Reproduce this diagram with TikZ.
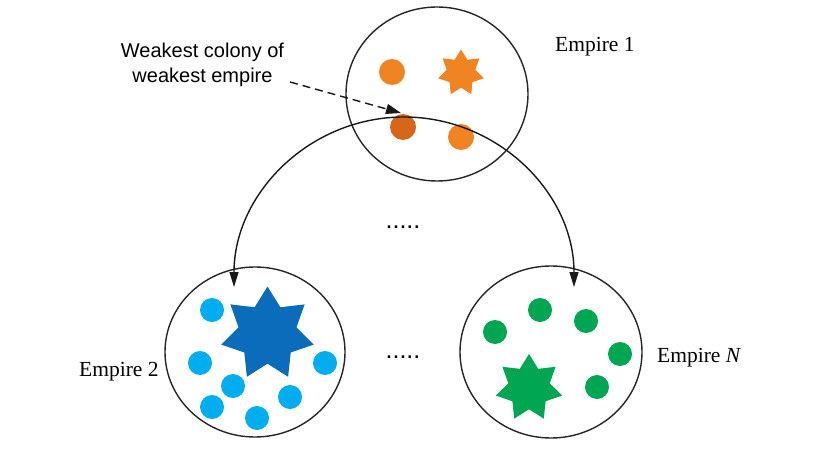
\documentclass[tikz,border=0pt]{standalone}
\usepackage{fontspec}
\setmainfont{Liberation Serif}
\newfontfamily\labelsans{Liberation Sans}
\usetikzlibrary{shapes.geometric,arrows.meta}
\definecolor{orangeC}{HTML}{F08422}
\definecolor{darkorangeC}{HTML}{D6661A}
\definecolor{cyanC}{HTML}{00AEEF}
\definecolor{blueC}{HTML}{0A6CBA}
\definecolor{greenC}{HTML}{00A651}
\begin{document}
\begin{tikzpicture}[x=1pt,y=1pt,
  empire/.style={draw=black!85, line width=1.4pt, ellipse, inner sep=0pt},
  colony/.style={circle, inner sep=0pt, minimum size=24pt, fill=#1},
  imperialist/.style={star, star points=7, star point ratio=1.6, inner sep=0pt, fill=#1},
  emplabel/.style={font=\fontsize{21.5}{24}\selectfont, inner sep=0pt, anchor=base west},
  ellip/.style={font=\labelsans\fontsize{25}{25}\selectfont, inner sep=0pt},
  conn/.style={draw=black!90, line width=1.4pt},
  tip/.style={-{Triangle[length=15pt,width=10pt]}}
]
\useasboundingbox (0,0) rectangle (821,453);

% empires
\node[empire, minimum width=182pt, minimum height=174pt] (e1) at (437,359) {};
\node[empire, minimum width=180pt, minimum height=170pt] (e2) at (255,101) {};
\node[empire, minimum width=182pt, minimum height=172pt] (eN) at (551,101) {};

% empire 1 members
\node[colony=orangeC, minimum size=26pt] (o1) at (392,381) {};
\node[colony=darkorangeC, minimum size=26pt] (wc) at (403,326) {};
\node[colony=orangeC, minimum size=26pt] (o3) at (461,316) {};
\node[imperialist=orangeC, minimum size=47pt] (s1) at (461,380) {};

% empire 2 members
\node[imperialist=blueC, minimum size=95pt] (s2) at (267.5,119) {};
\node[colony=cyanC] (b1) at (212,143) {};
\node[colony=cyanC] (b2) at (200,90) {};
\node[colony=cyanC] (b3) at (233,67) {};
\node[colony=cyanC] (b4) at (212,46) {};
\node[colony=cyanC] (b5) at (257,35) {};
\node[colony=cyanC] (b6) at (290,56) {};
\node[colony=cyanC] (b7) at (325,90) {};

% empire N members
\node[imperialist=greenC, minimum size=68pt] (sN) at (529,65) {};
\node[colony=greenC] (g1) at (495,121) {};
\node[colony=greenC] (g2) at (540,143) {};
\node[colony=greenC] (g3) at (586,132) {};
\node[colony=greenC] (g4) at (620,99) {};
\node[colony=greenC] (g5) at (597,66) {};

% labels
\node[emplabel] (l1) at (555,401) {Empire 1};
\node[emplabel] (l2) at (79,77) {Empire 2};
\node[emplabel] (lN) at (657,91) {Empire \textit{N}};
\node[font=\labelsans\fontsize{20}{25}\selectfont, align=center, inner sep=0pt] (wl) at (202.5,388.5) {Weakest colony of\\weakest empire};

% ellipses
\node[ellip] (d1) at (403,226) {.....};
\node[ellip] (d2) at (403,96) {.....};

% connectors
\coordinate (dstart) at (290,371);
\coordinate (dend) at (401,340);
\draw[conn, tip, dash pattern=on 8pt off 5pt] (dstart) -- (dend);

\coordinate (arcL) at (234,166);
\draw[conn, {Triangle[length=15pt,width=9pt]}-{Triangle[length=15pt,width=9pt]}] (arcL) arc[start angle=180, end angle=0, radius=170pt];
\end{tikzpicture}
\end{document}
